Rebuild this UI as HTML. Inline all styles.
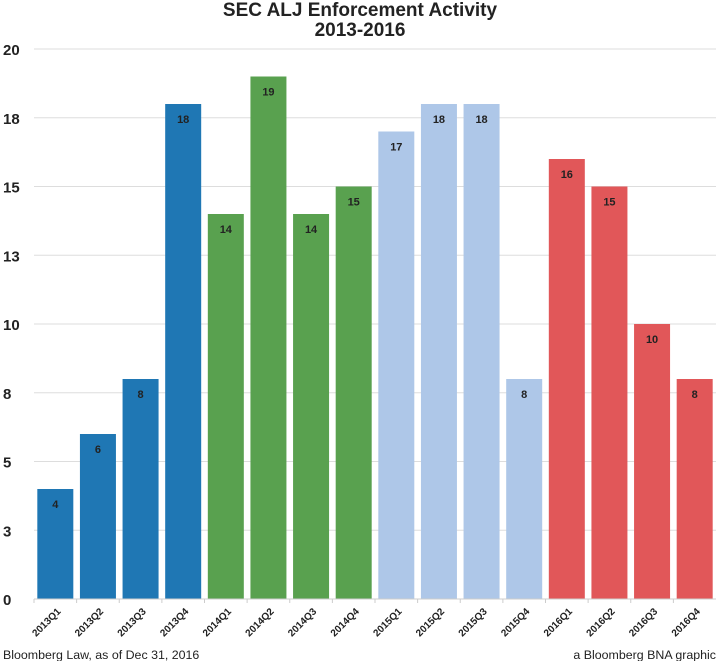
<!DOCTYPE html>
<html><head><meta charset="utf-8"><style>
body{margin:0;background:#fff;width:720px;height:661px;overflow:hidden;font-family:"Liberation Sans",Arial,sans-serif}
</style></head><body>
<svg id="chart" width="720" height="661" xmlns="http://www.w3.org/2000/svg">
<text x="360" y="16" text-anchor="middle" font-size="19" font-weight="bold" fill="#222"><tspan x="360" dy="0">SEC ALJ Enforcement Activity</tspan><tspan x="360" dy="20">2013-2016</tspan></text>
<g id="grid"></g><g id="bars"></g><g id="xlabels"></g>
<text x="3" y="659" font-size="12.4" fill="#222">Bloomberg Law, as of Dec 31, 2016</text>
<text x="716" y="659" font-size="12.4" fill="#222" text-anchor="end">a Bloomberg BNA graphic</text>
</svg>
<script>
const categories=["2013Q1","2013Q2","2013Q3","2013Q4","2014Q1","2014Q2","2014Q3","2014Q4","2015Q1","2015Q2","2015Q3","2015Q4","2016Q1","2016Q2","2016Q3","2016Q4"];
const values=[4,6,8,18,14,19,14,15,17,18,18,8,16,15,10,8];
const colors=["#1f77b4","#1f77b4","#1f77b4","#1f77b4","#59a14f","#59a14f","#59a14f","#59a14f","#aec7e8","#aec7e8","#aec7e8","#aec7e8","#e15759","#e15759","#e15759","#e15759"];
const tickValues=[0,2.5,5,7.5,10,12.5,15,17.5,20];
const tickLabels=["0","3","5","8","10","13","15","18","20"];
const NS="http://www.w3.org/2000/svg";
const x0=34,x1=716,y0=599,yTop=49,yMax=20;
const y=v=>y0-(v/yMax)*(y0-yTop);
const bw=(x1-x0)/categories.length;
const xc=i=>x0+bw*(i+0.5);
function mk(tag,attrs,parent){const e=document.createElementNS(NS,tag);for(const k in attrs)e.setAttribute(k,attrs[k]);parent.appendChild(e);return e;}
const grid=document.getElementById('grid'),bars=document.getElementById('bars'),xl=document.getElementById('xlabels');
tickValues.forEach((t,i)=>{
  const l=mk('line',{x1:x0,x2:x1,y1:y(t),y2:y(t),stroke:'#ddd','stroke-width':1},grid);
  
  
  const tx=mk('text',{x:3,y:y(t)+6,'font-size':15,'font-weight':'bold',fill:'#222'},grid);
  tx.textContent=tickLabels[i];
  
  
});
categories.forEach((c,i)=>{
  const w=36;
  const r=mk('rect',{x:xc(i)-w/2,y:y(values[i]),width:w,height:y0-y(values[i]),fill:colors[i]},bars);
  
  
  const t=mk('text',{x:xc(i),y:y(values[i])+19,'font-size':11,'font-weight':'bold','text-anchor':'middle',fill:'#222'},bars);
  t.textContent=values[i];
  
  
  const tk=mk('line',{x1:x0+bw*i,x2:x0+bw*i,y1:y0,y2:y0+4,stroke:'#ccc'},xl);
  
  
  const lx=xc(i)+6,ly=y0+13;
  const xt=mk('text',{x:lx,y:ly,'font-size':10,'font-weight':'bold','text-anchor':'end',fill:'#222',transform:`rotate(-45 ${lx} ${ly})`},xl);
  xt.textContent=c;
  
  
});
const ax=mk('line',{x1:x0,x2:x1,y1:y0,y2:y0,stroke:'#ccc'},xl);


</script>
</body></html>
